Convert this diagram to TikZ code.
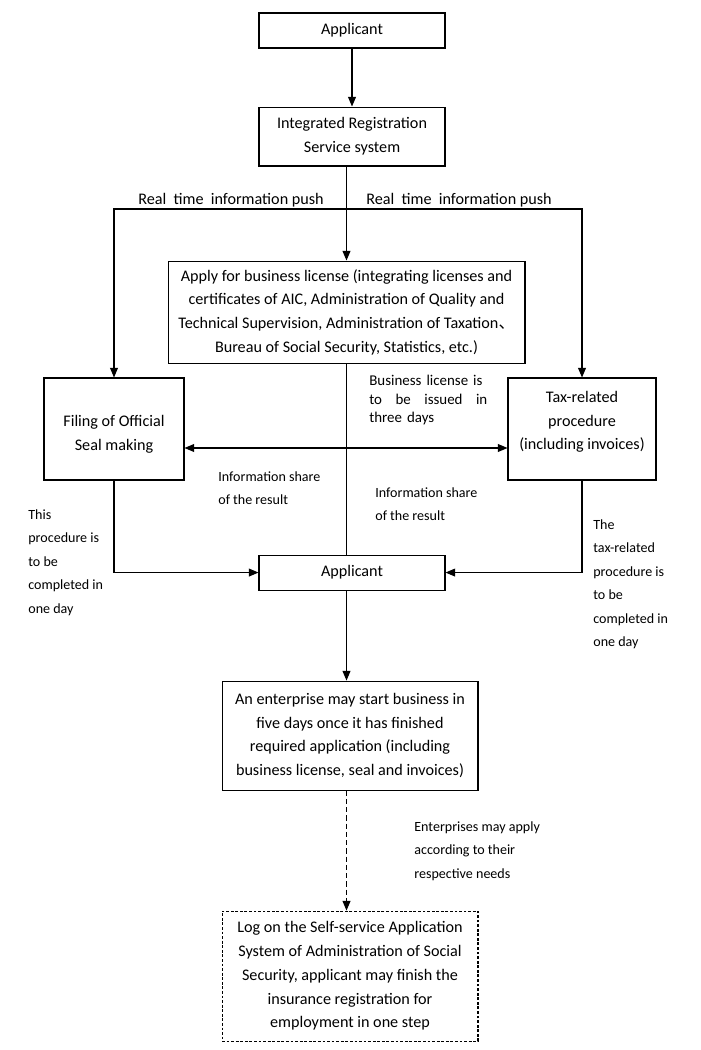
\documentclass[tikz,border=0pt]{standalone}
\usepackage{fontspec}
\setmainfont{Carlito}
\newfontfamily\cjk{Noto Sans CJK SC}
\usetikzlibrary{arrows.meta,positioning}

\begin{document}
\begin{tikzpicture}[
  x=0.02cm, y=-0.02cm,
  box/.style={draw, line width=0.6pt, align=center, inner sep=2pt,
              font=\fontsize{9.2}{13.5}\selectfont},
  note/.style={align=left, inner sep=0pt, anchor=north west,
               font=\fontsize{8}{13.4}\selectfont},
  push/.style={inner sep=0pt, font=\fontsize{9.2}{13.5}\selectfont},
  arr/.style={->, >={Triangle[length=5.5pt,width=4.5pt]}, line width=0.6pt}
]
  \useasboundingbox (0,0) rectangle (700,1050);
  \node[box, minimum width=3.72cm, minimum height=0.7cm] (app1) at (352,30.5) {Applicant};
  \node[box, minimum width=3.72cm, minimum height=1.18cm, below=1.16cm of app1] (irs) {Integrated Registration\\Service system};
  \node[box, minimum width=7.14cm, minimum height=2.04cm, below=1.88cm of irs, xshift=-0.11cm] (apply)
    {Apply for business license (integrating licenses and\\certificates of AIC, Administration of Quality and\\Technical Supervision, Administration of Taxation{\cjk 、}\\Bureau of Social Security, Statistics, etc.)};
  \node[box, minimum width=2.8cm, minimum height=2.04cm, text height=0.92cm] (filing) at (114,429) {Filing of Official\\Seal making};
  \node[box, minimum width=2.96cm, minimum height=2.04cm, text depth=0.34cm] (tax) at (582,429) {Tax-related\\procedure\\(including invoices)};
  \node[box, minimum width=3.72cm, minimum height=0.7cm, below=3.82cm of apply, xshift=0.11cm] (app2) {Applicant};
  \node[box, minimum width=5.12cm, minimum height=2.18cm, below=1.8cm of app2, xshift=-0.04cm] (enterp)
    {An enterprise may start business in\\five days once it has finished\\required application (including\\business license, seal and invoices)};
  \node[box, dash pattern=on 1.6pt off 1pt, minimum width=5.12cm, minimum height=2.6cm, below=2.4cm of enterp] (logon)
    {Log on the Self-service Application\\System of Administration of Social\\Security, applicant may finish the\\insurance registration for\\employment in one step};
  % labels
  \node[push] (pushl) at (231,200) {Real~~time~~information push};
  \node[push] (pushr) at (459,200) {Real~~time~~information push};
  \node[note, text width=2.36cm, font=\fontsize{8.5}{10.6}\selectfont] (issue) at (369,375)
    {Business license is\\to\hfill be\hfill issued\hfill in\\three days};
  \node[note] (share1) at (218,471) {Information share\\of the result};
  \node[note] (share2) at (375,487) {Information share\\of the result};
  \node[note] (oneday1) at (28,509) {This\\procedure is\\to be\\completed in\\one day};
  \node[note] (oneday2) at (593,519) {The\\tax-related\\procedure is\\to be\\completed in\\one day};
  \node[note] (needs) at (414,821) {Enterprises may apply\\according to their\\respective needs};
  % connectors
  \coordinate (split) at (apply.north |- 0,209);
  \draw[arr] (app1) -- (irs);
  \draw[arr] (irs.south -| apply.north) -- (apply.north);
  \draw[arr] (split) -| (filing);
  \draw[arr] (split) -| (tax);
  \draw[arr, <->] ([yshift=-0.38cm]filing.east) -- ([yshift=-0.38cm]tax.west);
  \draw[line width=0.6pt] (apply.south) -- (apply.south |- app2.north);
  \draw[arr] (filing) |- (app2);
  \draw[arr] (tax) |- (app2);
  \draw[arr] (app2.south -| apply.south) -- (enterp.north -| apply.south);
  \draw[arr, dash pattern=on 3pt off 1.7pt] (enterp.south -| apply.south) -- (logon.north -| apply.south);
\end{tikzpicture}
\end{document}
